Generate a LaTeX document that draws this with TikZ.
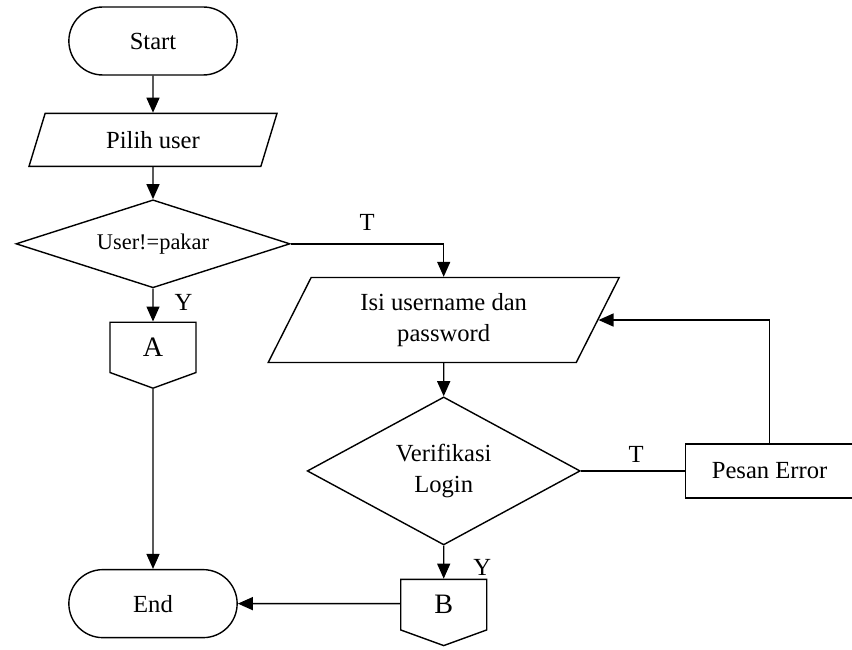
\documentclass[tikz,border=0pt]{standalone}
\usepackage{fontspec}
\setmainfont{Liberation Serif}
\usetikzlibrary{shapes.geometric, shapes.misc, shapes.symbols, arrows.meta, positioning}

\begin{document}
\begin{tikzpicture}[
  font=\fontsize{14}{17.5}\selectfont,
  line width=0.8pt,
  terminal/.style={rounded rectangle, draw, minimum width=3.6cm, minimum height=1.36cm},
  io/.style={trapezium, draw, trapezium stretches body, align=center, inner sep=0pt},
  decision/.style={diamond, draw, align=center, inner sep=0pt},
  process/.style={rectangle, draw, minimum width=3.36cm, minimum height=1.08cm},
  offpage/.style={signal, signal to=south, signal pointer angle=140, draw, minimum width=1.72cm, minimum height=1.08cm, inner sep=0pt, font=\fontsize{16}{19}\selectfont},
  arrow/.style={-{Triangle[length=0.3cm, width=0.26cm]}},
  lbl/.style={inner sep=0pt},
]
\useasboundingbox (-3.06,0.82) rectangle (13.98,-12.18);

% Left column
\node[terminal] (start) {Start};
\node[io, below=0.74cm of start, minimum width=4.96cm, minimum height=1.06cm, trapezium left angle=47, trapezium right angle=133] (pilih) {Pilih user};
\node[decision, below=0.64cm of pilih, aspect=3.11, minimum width=5.48cm, minimum height=1.76cm, font=\fontsize{12.75}{15}\selectfont] (usr) {User!=pakar};
\node[offpage, below=0.66cm of usr] (cona) {A};
\node[terminal, below=3.6cm of cona] (finish) {End};

% Right column
\coordinate[right=3.06cm of usr.east] (tcorner);
\node[io, below=0.66cm of tcorner, minimum width=7.02cm, minimum height=1.7cm, trapezium left angle=51, trapezium right angle=129] (isi) {Isi username dan\\password};
\node[decision, below=0.66cm of isi, aspect=1.84, minimum width=5.46cm, minimum height=2.96cm] (verif) {Verifikasi\\Login};
\node[offpage, below=0.66cm of verif] (conb) {B};
\node[process, right=2.08cm of verif] (err) {Pesan Error};

% Arrows
\draw[arrow] (start) -- (pilih);
\draw[arrow] (pilih) -- (usr);
\draw[arrow] (usr) -- node[lbl, pos=0.43, right=0.42cm] {Y} (cona);
\draw[arrow] (cona) -- (finish);
\draw[arrow] (usr) -| node[lbl, pos=0.25, above=0.26cm] {T} (isi);
\draw[arrow] (isi) -- (verif);
\draw[arrow] (verif) -- node[lbl, pos=0.65, right=0.58cm] {Y} (conb);
\draw (verif) -- node[lbl, pos=0.53, above=0.16cm] {T} (err);
\draw[arrow] (err.north) |- (isi);
\draw[arrow] (finish.east -| conb.west) -- (finish);

\end{tikzpicture}
\end{document}
